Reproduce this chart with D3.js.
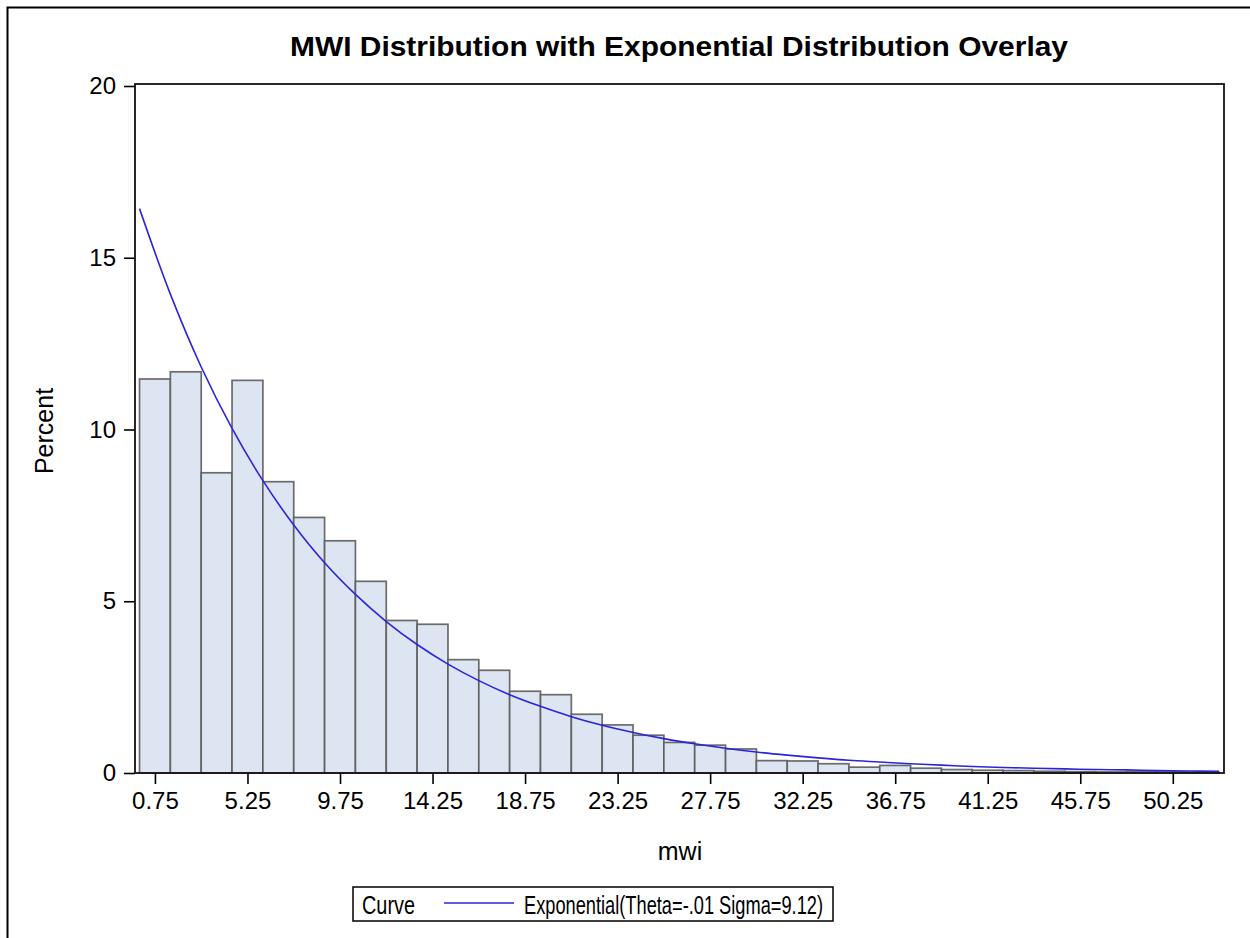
<!DOCTYPE html>
<html>
<head>
<meta charset="utf-8">
<script src="https://cdn.jsdelivr.net/npm/d3@7"></script>
<style>
  html, body { margin: 0; padding: 0; background: #fff; }
  svg { display: block; font-family: "Liberation Sans", Arial, sans-serif; }
</style>
</head>
<body>
<svg id="chart" width="1250" height="938"></svg>
<script>
// ---- data ----
const binStart = [0, 1.5, 3, 4.5, 6, 7.5, 9, 10.5, 12, 13.5, 15, 16.5, 18, 19.5, 21, 22.5, 24, 25.5, 27, 28.5,
                  30, 31.5, 33, 34.5, 36, 37.5, 39, 40.5, 42, 43.5, 45, 46.5, 48, 49.5, 51];
const binWidth = 1.5;
const percents = [11.47, 11.68, 8.74, 11.43, 8.48, 7.44, 6.76, 5.58, 4.44, 4.33,
                  3.30, 2.99, 2.38, 2.28, 1.71, 1.40, 1.10, 0.89, 0.81, 0.70,
                  0.36, 0.35, 0.27, 0.17, 0.22, 0.14, 0.10, 0.08, 0.07, 0.05,
                  0.04, 0.03, 0.04, 0.03, 0.02];
const curveX = [0, 1.5, 3, 4.5, 6, 7.5, 9, 10.5, 12, 13.5, 15, 16.5, 18, 19.5, 21, 22.5, 24, 25.5, 27, 28.5,
                30, 31.5, 33, 34.5, 36, 37.5, 39, 40.5, 42, 43.5, 45, 46.5, 48, 49.5, 51, 52.5];
const curveY = [16.43, 13.94, 11.82, 10.03, 8.51, 7.22, 6.12, 5.20, 4.41, 3.74, 3.17, 2.69, 2.28, 1.94, 1.64,
                1.39, 1.18, 1.00, 0.85, 0.72, 0.61, 0.52, 0.44, 0.37, 0.32, 0.27, 0.23, 0.19, 0.16, 0.14,
                0.12, 0.10, 0.09, 0.07, 0.06, 0.05];
const xTicks = [0.75, 5.25, 9.75, 14.25, 18.75, 23.25, 27.75, 32.25, 36.75, 41.25, 45.75, 50.25];
const yTicks = [0, 5, 10, 15, 20];
const titleText = "MWI Distribution with Exponential Distribution Overlay";
const xLabel = "mwi";
const yLabel = "Percent";
const legendTitle = "Curve";
const legendText = "Exponential(Theta=-.01 Sigma=9.12)";

// ---- layout ----
const L = 135, R = 1224, T = 84, B = 773;
const svg = d3.select("#chart");
const x = d3.scaleLinear().domain([-0.22, 52.74]).range([L, R]);
const y = d3.scaleLinear().domain([0, 20]).range([B, 86]);

// outer frame
svg.append("rect").attr("x", 7.5).attr("y", 7.5).attr("width", 1400).attr("height", 1200)
  .attr("fill", "none").attr("stroke", "#000").attr("stroke-width", 2);

// bars
svg.append("g").selectAll("rect").data(percents).join("rect")
  .attr("x", (d, i) => x(binStart[i]))
  .attr("y", d => y(d))
  .attr("width", (d, i) => x(binStart[i] + binWidth) - x(binStart[i]))
  .attr("height", d => y(0) - y(d))
  .attr("fill", "#dce5f1")
  .attr("stroke", "#5c5c5c")
  .attr("stroke-opacity", 0.9)
  .attr("stroke-width", 1.7);

// fitted curve
const line = d3.line().x(d => x(d[0])).y(d => y(d[1])).curve(d3.curveCatmullRom);
svg.append("path").datum(curveX.map((v, i) => [v, curveY[i]]))
  .attr("d", line).attr("fill", "none").attr("stroke", "#2a25d9").attr("stroke-width", 1.6);

// axes
const xAxis = svg.append("g").attr("transform", `translate(0,${B})`)
  .call(d3.axisBottom(x).tickValues(xTicks).tickSize(11).tickSizeOuter(0).tickPadding(8)
    .tickFormat(d3.format(".2f")));
const yAxis = svg.append("g").attr("transform", `translate(${L},0)`)
  .call(d3.axisLeft(y).tickValues(yTicks).tickSize(11).tickSizeOuter(0).tickPadding(8));
[xAxis, yAxis].forEach(g => {
  g.select(".domain").remove();
  g.selectAll("line").attr("stroke", "#000").attr("stroke-width", 1.6);
  g.selectAll("text").attr("fill", "#000").attr("font-size", 24).attr("font-family", "Liberation Sans, Arial, sans-serif");
});

// plot frame
svg.append("rect").attr("x", L).attr("y", T).attr("width", R - L).attr("height", B - T)
  .attr("fill", "none").attr("stroke", "#111").attr("stroke-width", 1.8);

// title
svg.append("text").attr("x", 679).attr("y", 56).attr("text-anchor", "middle")
  .attr("font-size", 28).attr("font-weight", "bold")
  .attr("textLength", 778).attr("lengthAdjust", "spacingAndGlyphs")
  .text(titleText);

// axis labels
svg.append("text").attr("x", 680).attr("y", 860).attr("text-anchor", "middle")
  .attr("font-size", 25).text(xLabel);
svg.append("text").attr("transform", "translate(53,431) rotate(-90)").attr("text-anchor", "middle")
  .attr("font-size", 25).text(yLabel);

// legend
svg.append("rect").attr("x", 353).attr("y", 887).attr("width", 480).attr("height", 34)
  .attr("fill", "#fff").attr("stroke", "#000").attr("stroke-width", 1.5);
svg.append("text").attr("x", 362).attr("y", 914).attr("font-size", 25)
  .attr("textLength", 53).attr("lengthAdjust", "spacingAndGlyphs").text(legendTitle);
svg.append("line").attr("x1", 444).attr("x2", 514).attr("y1", 903).attr("y2", 903)
  .attr("stroke", "#2a25d9").attr("stroke-width", 1.6);
svg.append("text").attr("x", 524).attr("y", 914).attr("font-size", 25)
  .attr("textLength", 299).attr("lengthAdjust", "spacingAndGlyphs").text(legendText);
</script>
</body>
</html>
